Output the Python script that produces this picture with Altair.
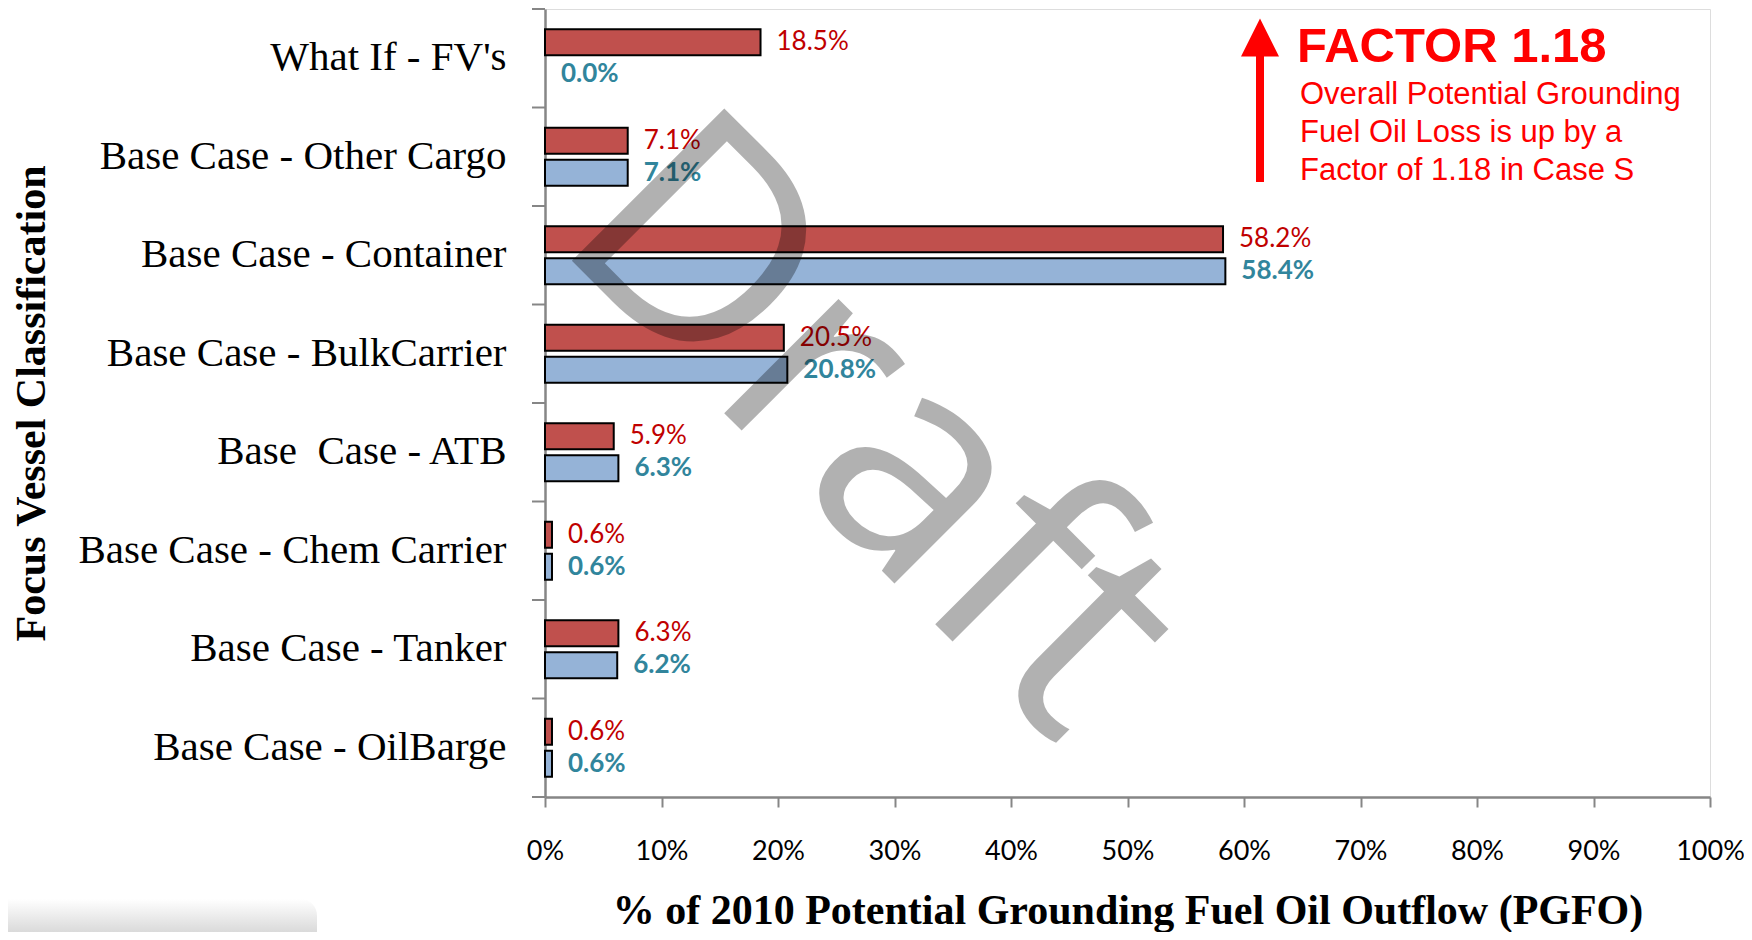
import altair as alt
import pandas as pd

categories = [
    "What If - FV's",
    "Base Case - Other Cargo",
    "Base Case - Container",
    "Base Case - BulkCarrier",
    "Base \u00a0Case - ATB",
    "Base Case - Chem Carrier",
    "Base Case - Tanker",
    "Base Case - OilBarge",
]
series_names = ["Case S", "Base Case 2010"]
case_s_values = [18.5, 7.1, 58.2, 20.5, 5.9, 0.6, 6.3, 0.6]
base_values = [0.0, 7.1, 58.4, 20.8, 6.3, 0.6, 6.2, 0.6]
x_ticks = [0, 0.1, 0.2, 0.3, 0.4, 0.5, 0.6, 0.7, 0.8, 0.9, 1.0]
annotation_title = "FACTOR 1.18"
annotation_lines = [
    "Overall Potential Grounding",
    "Fuel Oil Loss is up by a",
    "Factor of 1.18 in Case S",
]
watermark = "Draft"

rows = []
for c, a, b in zip(categories, case_s_values, base_values):
    rows.append({"cat": c, "series": series_names[0], "value": a / 100, "label": f"{a:.1f}%"})
    rows.append({"cat": c, "series": series_names[1], "value": b / 100, "label": f"{b:.1f}%"})
df = pd.DataFrame(rows)
cat_df = pd.DataFrame({"cat": categories})

W, H = 1165, 788
GRAY = "#868686"

yscale = alt.Scale(domain=categories, paddingInner=0, paddingOuter=0)
xscale = alt.Scale(domain=[0, 1], nice=False, zero=True)

X_AXIS = alt.Axis(values=x_ticks, format=".0%", grid=False, labelFont="Lato", labelFontSize=27,
                  labelColor="black", labelPadding=44, labelBaseline="middle", labelFlush=False,
                  labelOverlap=False, tickSize=10, tickColor=GRAY, tickWidth=2,
                  domainColor=GRAY, domainWidth=2.5,
                  title="% of 2010 Potential Grounding Fuel Oil Outflow (PGFO)",
                  titleFont="Liberation Serif", titleFontSize=42, titleFontWeight="bold",
                  titleColor="black", titleX=W / 2, titleY=126, titleBaseline="alphabetic",
                  titleAlign="center")
Y_AXIS = alt.Axis(ticks=False, labelFont="Liberation Serif", labelFontSize=41, labelColor="black",
                  labelPadding=39, labelLimit=600, domainColor=GRAY, domainWidth=2.5,
                  title="Focus Vessel Classification", titleFont="Liberation Serif",
                  titleFontSize=42, titleFontWeight="bold", titleColor="black",
                  titleX=-514, titleY=H / 2, titleAngle=-90, titleAlign="center",
                  titleBaseline="middle")


def xenc():
    return alt.X("value:Q", scale=xscale, axis=X_AXIS)


def yenc(**kw):
    return alt.Y("cat:N", sort=categories, scale=yscale, axis=Y_AXIS, **kw)


def yoff():
    return alt.YOffset("series:N", scale=alt.Scale(domain=series_names, paddingInner=0.1875, paddingOuter=0.633))


base = alt.Chart(df)

bars = base.transform_filter(alt.datum.value > 0).mark_bar(stroke="black", strokeWidth=2).encode(
    x=xenc(), y=yenc(), yOffset=yoff(),
    color=alt.Color("series:N", scale=alt.Scale(domain=series_names, range=["#C0504D", "#95B3D7"]), legend=None),
)

red_labels = base.transform_filter(alt.datum.series == series_names[0]).mark_text(
    align="left", baseline="middle", dx=16, font="Lato", fontSize=26, color="#C00000"
).encode(x=xenc(), y=yenc(), yOffset=yoff(), text="label:N")
blue_labels = base.transform_filter(alt.datum.series == series_names[1]).mark_text(
    align="left", baseline="middle", dx=16, font="Lato", fontSize=26, fontWeight="bold", color="#31859C"
).encode(x=xenc(), y=yenc(), yOffset=yoff(), text="label:N")

ticks_top = alt.Chart(cat_df).mark_rule(color=GRAY, strokeWidth=2).encode(
    y=yenc(bandPosition=0), x=alt.value(-13), x2=alt.value(0),
)
ticks_bottom = alt.Chart(cat_df).transform_filter(alt.datum.cat == categories[-1]).mark_rule(
    color=GRAY, strokeWidth=2).encode(
    y=yenc(bandPosition=1), x=alt.value(-13), x2=alt.value(0),
)

ann_df = pd.DataFrame({"t": [annotation_title]})
arrow_shaft = alt.Chart(ann_df).mark_rule(color="#FF0000", strokeWidth=8).encode(
    x=alt.value(715), y=alt.value(44), y2=alt.value(173))
arrow_head = alt.Chart(ann_df).mark_point(
    shape="M -1 1 L 0 -1 L 1 1 Z", filled=True, color="#FF0000", opacity=1, size=1444, strokeWidth=0
).encode(x=alt.value(715), y=alt.value(28.5))
ann_title = alt.Chart(ann_df).mark_text(
    align="left", baseline="alphabetic", font="Liberation Sans", fontSize=49, fontWeight="bold", color="#FF0000"
).encode(x=alt.value(752), y=alt.value(53), text=alt.value(annotation_title))
ann_body = alt.Chart(ann_df).mark_text(
    align="left", baseline="alphabetic", font="Liberation Sans", fontSize=31, color="#FF0000", lineHeight=38
).encode(x=alt.value(755), y=alt.value(95), text=alt.value(annotation_lines))

wm = alt.Chart(ann_df).mark_text(
    align="left", baseline="alphabetic", font="Open Sans", fontSize=302, angle=45, color="black", opacity=0.3
).encode(x=alt.value(6), y=alt.value(231), text=alt.value(watermark))

shadow = alt.Chart(ann_df).mark_rect(
    color=alt.LinearGradient(gradient="linear", x1=0, x2=0, y1=0, y2=1,
                             stops=[alt.GradientStop(offset=0, color="#ffffff"),
                                    alt.GradientStop(offset=1, color="#dadada")]),
    cornerRadiusTopRight=18, clip=False,
).encode(x=alt.value(-537), x2=alt.value(-228), y=alt.value(890), y2=alt.value(923))

chart = alt.layer(
    shadow, bars, red_labels, blue_labels, ticks_top, ticks_bottom, wm, arrow_shaft, arrow_head, ann_title, ann_body
).properties(
    width=W, height=H,
    autosize=alt.AutoSizeParams(type="none"),
    padding={"left": 537, "top": 1, "right": 34, "bottom": 135},
).configure_view(stroke="#1a1a1a", strokeWidth=2).configure(background="white")

chart.save("out.html", embed_options={"renderer": "svg", "actions": False})
